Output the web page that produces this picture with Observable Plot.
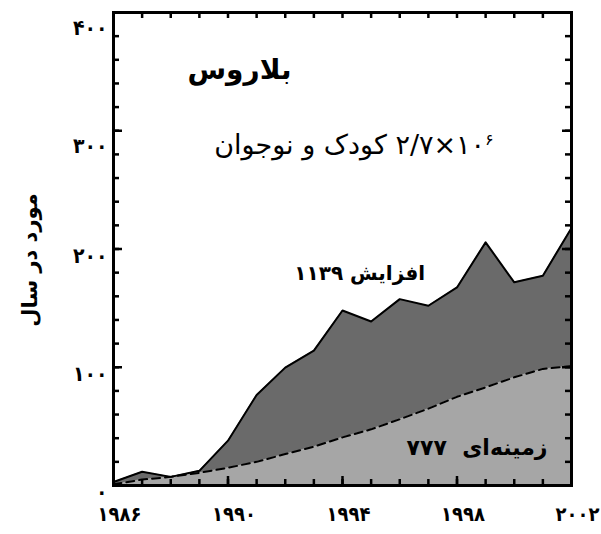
<!DOCTYPE html>
<html>
<head>
<meta charset="utf-8">
<script src="https://cdn.jsdelivr.net/npm/d3@7"></script>
<script src="https://cdn.jsdelivr.net/npm/@observablehq/plot@0.6"></script>
<style>
  body { margin: 0; background: #fff; }
  svg { font-family: "DejaVu Sans", sans-serif; }
</style>
</head>
<body>
<div id="chart"></div>
<script>
// Thyroid cancer cases per year among children and adolescents in Belarus
const years = [1986, 1987, 1988, 1989, 1990, 1991, 1992, 1993, 1994, 1995, 1996, 1997, 1998, 1999, 2000, 2001, 2002];
const totalCases = [3, 11.6, 7.3, 12.4, 37.9, 76.6, 99.7, 114.1, 148, 138.7, 157.6, 152, 167.5, 205.6, 171.8, 177.4, 217.8];
const backgroundCases = [1, 5, 7.3, 10.7, 15, 20, 26.6, 32.8, 40.7, 47.5, 56, 65, 75, 83, 91.5, 98.6, 101];

const xMajorTicks = [1986, 1990, 1994, 1998, 2002];
const xTickLabels = ["۱۹۸۶", "۱۹۹۰", "۱۹۹۴", "۱۹۹۸", "۲۰۰۲"];
const yMajorTicks = [0, 100, 200, 300, 400];
const yTickLabels = ["۰", "۱۰۰", "۲۰۰", "۳۰۰", "۴۰۰"];
const yMinorTicks = [0, 20, 40, 60, 80, 100, 120, 140, 160, 180, 200, 220, 240, 260, 280, 300, 320, 340, 360, 380, 400];

const titleText = "بلاروس";
const populationNumber = "۲/۷×۱۰";
const populationExponent = "۶";
const populationWords = "کودک و نوجوان";
const excessText = "افزایش ۱۱۳۹";
const backgroundText = "زمینه‌ای  ۷۷۷";
const yTitle = "مورد در سال";

const rows = years.map((year, i) => ({year, total: totalCases[i], background: backgroundCases[i]}));
const populationText = populationNumber + populationExponent + " " + populationWords;

const fmtX = v => xTickLabels[xMajorTicks.indexOf(v)];
const fmtY = v => yTickLabels[yMajorTicks.indexOf(v)];

const W = 601, H = 534;
const margin = {top: 12, right: 30, bottom: 49, left: 113};
const innerW = W - margin.left - margin.right;
const innerH = H - margin.top - margin.bottom;

// short ticks pointing into the plot from each side of the frame
const tickStroke = {stroke: "black", strokeWidth: 2.5};
const sideTicksY = (values, side, size) =>
  Plot.tickY(values, {y: d => d, ...tickStroke,
    insetLeft: side === "right" ? innerW - size : 0,
    insetRight: side === "left" ? innerW - size : 0});
const sideTicksX = (values, side, size) =>
  Plot.tickX(values, {x: d => d, ...tickStroke,
    insetTop: side === "bottom" ? innerH - size : 0,
    insetBottom: side === "top" ? innerH - size : 0});

// y tick labels sit a little below their ticks, more so towards the top
const yLabelStyle = {anchor: "left", tickSize: 0, tickPadding: 6, tickFormat: fmtY, label: null,
  fontSize: 21, fontWeight: "bold", fontFamily: "DejaVu Sans Condensed"};

const chart = Plot.plot({
  width: W,
  height: H,
  marginLeft: margin.left,
  marginRight: margin.right,
  marginTop: margin.top,
  marginBottom: margin.bottom,
  x: {domain: [1986, 2002]},
  y: {domain: [0, 400]},
  style: {fontFamily: "DejaVu Sans", background: "white", color: "black"},
  marks: [
    Plot.areaY(rows, {x: "year", y: "total", fill: "#6a6a6a"}),
    Plot.areaY(rows, {x: "year", y: "background", fill: "#a6a6a6"}),
    Plot.lineY(rows, {x: "year", y: "background", stroke: "black", strokeWidth: 2, strokeDasharray: "8,5"}),
    Plot.lineY(rows, {x: "year", y: "total", stroke: "black", strokeWidth: 2}),

    sideTicksX(years, "bottom", 6),
    sideTicksX(xMajorTicks, "bottom", 9),
    sideTicksX(years, "top", 6),
    sideTicksY(yMinorTicks, "left", 6),
    sideTicksY(yMajorTicks, "left", 9),
    sideTicksY(yMinorTicks, "right", 6),
    sideTicksY(yMajorTicks, "right", 9),

    // tick labels
    Plot.axisX({anchor: "bottom", ticks: xMajorTicks, tickSize: 0, tickPadding: 21, tickFormat: fmtX,
      label: null, fontSize: 20, fontWeight: "bold", fontFamily: "DejaVu Sans Condensed", dx: 6}),
    Plot.axisY({...yLabelStyle, ticks: yMajorTicks.slice(0, 3), dy: 7}),
    Plot.axisY({...yLabelStyle, ticks: yMajorTicks.slice(3), dy: 16}),

    Plot.frame({stroke: "black", strokeWidth: 3}),

    // annotations
    Plot.text([titleText], {x: 1990.4, y: 351, text: d => d, fontSize: 28, fontWeight: "bold"}),
    Plot.text([populationText], {x: 1994.4, y: 288, text: d => d, fontSize: 27}),
    Plot.text([excessText], {x: 1994.6, y: 179, text: d => d, fontSize: 20, fontWeight: "bold"}),
    Plot.text([backgroundText], {x: 1998.7, y: 32, text: d => d, fontSize: 22, fontWeight: "bold"}),
    Plot.text([yTitle], {frameAnchor: "left", textAnchor: "middle", dx: -83, dy: 11, rotate: -90,
      text: d => d, fontSize: 21, fontWeight: "bold"})
  ]
});

// right-to-left direction for the Persian annotations
const svg = d3.select(chart);
const rtlTexts = [titleText, excessText, backgroundText, yTitle, populationText];
svg.selectAll("text").filter(function() { return rtlTexts.includes(this.textContent); })
  .attr("direction", "rtl");

// population note: keep the number left-to-right and raise the exponent
svg.selectAll("text").filter(function() { return this.textContent === populationText; })
  .each(function() {
    const t = d3.select(this).text(null);
    t.append("tspan").text("\u2066" + populationNumber);
    t.append("tspan").attr("baseline-shift", "super").attr("font-size", 16).text(populationExponent);
    t.append("tspan").text("\u2069 " + populationWords);
  });

document.getElementById("chart").append(chart);
</script>
</body>
</html>
